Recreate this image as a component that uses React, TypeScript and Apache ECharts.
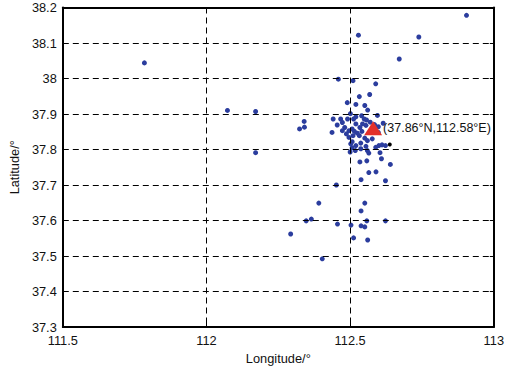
import React, { useEffect, useRef } from "react";
import * as echarts from "echarts";

const xTicks = [111.5, 112, 112.5, 113];
const yRange = [37.3, 38.2];

const lon = [
  111.784, 112.073, 112.171, 112.171, 112.905, 112.529, 112.739, 112.671, 112.459, 112.51,
  112.589, 112.532, 112.568, 112.49, 112.52, 112.551, 112.561, 112.595, 112.34, 112.324,
  112.341, 112.437, 112.441, 112.64, 112.534, 112.558, 112.565, 112.59, 112.609, 112.538,
  112.623, 112.452, 112.391, 112.551, 112.538, 112.347, 112.365, 112.456, 112.503, 112.538,
  112.551, 112.558, 112.623, 112.293, 112.512, 112.561, 112.403,
  112.501, 112.467, 112.473, 112.491, 112.512, 112.52, 112.54, 112.549, 112.473, 112.481,
  112.496, 112.507, 112.515, 112.534, 112.541, 112.598, 112.496, 112.51, 112.532, 112.551,
  112.56, 112.507, 112.52, 112.537, 112.577, 112.507, 112.5, 112.518, 112.537, 112.555,
  112.56, 112.589, 112.6, 112.611, 112.604, 112.623, 112.543, 112.557, 112.615, 112.52,
  112.455, 112.598, 112.487, 112.525, 112.555, 112.57, 112.585, 112.565, 112.502,
];
const lat = [
  38.044, 37.91, 37.907, 37.791, 38.178, 38.122, 38.117, 38.055, 37.998, 37.994,
  37.985, 37.949, 37.955, 37.932, 37.927, 37.924, 37.911, 37.896, 37.879, 37.858,
  37.863, 37.848, 37.886, 37.758, 37.765, 37.768, 37.735, 37.737, 37.774, 37.715,
  37.712, 37.7, 37.649, 37.649, 37.627, 37.599, 37.604, 37.59, 37.587, 37.585,
  37.582, 37.599, 37.599, 37.562, 37.551, 37.545, 37.492,
  37.901, 37.886, 37.876, 37.886, 37.886, 37.892, 37.895, 37.886, 37.853, 37.862,
  37.853, 37.858, 37.851, 37.862, 37.851, 37.848, 37.834, 37.839, 37.839, 37.832,
  37.825, 37.822, 37.811, 37.818, 37.83, 37.805, 37.793, 37.797, 37.802, 37.809,
  37.797, 37.806, 37.811, 37.813, 37.791, 37.811, 37.872, 37.883, 37.874, 37.872,
  37.869, 37.864, 37.844, 37.846, 37.868, 37.877, 37.87, 37.79, 37.816,
];

const stationLon = [112.58];
const stationLat = [37.86];
const stationLabel = "(37.86°N,112.58°E)";
const blackLon = [112.638];
const blackLat = [37.814];

const FONT = "Liberation Sans, Arial, sans-serif";
const FS = 12.8;

export default function App() {
  const ref = useRef<HTMLDivElement>(null);
  useEffect(() => {
    if (!ref.current) return;
    const chart = echarts.init(ref.current, null, { renderer: "svg" });
    const dash = { color: "#000", width: 1, type: [6, 4] as any };
    const frame = { show: true, onZero: false, lineStyle: { color: "#000", width: 2 } };
    const tick = { show: true, inside: true, length: 4, lineStyle: { color: "#000" } };
    chart.setOption({
      animation: false,
      backgroundColor: "#fff",
      grid: { left: 59, right: 8, top: 7.5, bottom: 40.7 },
      xAxis: [
        {
          type: "value",
          min: xTicks[0],
          max: xTicks[xTicks.length - 1],
          interval: 0.5,
          name: "Longitude/°",
          nameLocation: "middle",
          nameGap: 25,
          nameTextStyle: { fontFamily: FONT, fontSize: FS, color: "#111" },
          axisLine: frame,
          axisTick: tick,
          axisLabel: { fontFamily: FONT, fontSize: FS, color: "#111", margin: 7 },
          splitLine: { show: true, lineStyle: dash },
          z: 10,
        },
        {
          type: "value",
          position: "top",
          min: xTicks[0],
          max: xTicks[xTicks.length - 1],
          interval: 0.5,
          axisLine: frame,
          axisTick: tick,
          axisLabel: { show: false },
          splitLine: { show: false },
          z: 10,
        },
      ],
      yAxis: [
        {
          type: "value",
          min: yRange[0],
          max: yRange[1],
          interval: 0.1,
          name: "Latitude/°",
          nameLocation: "middle",
          nameGap: 38,
          nameTextStyle: { fontFamily: FONT, fontSize: FS, color: "#111" },
          axisLine: frame,
          axisTick: tick,
          axisLabel: { fontFamily: FONT, fontSize: FS, color: "#111", margin: 6 },
          splitLine: { show: true, lineStyle: dash },
          z: 10,
        },
        {
          type: "value",
          position: "right",
          min: yRange[0],
          max: yRange[1],
          interval: 0.1,
          axisLine: frame,
          axisTick: tick,
          axisLabel: { show: false },
          splitLine: { show: false },
          z: 10,
        },
      ],
      series: [
        {
          type: "scatter",
          symbol: "circle",
          symbolSize: 5,
          itemStyle: { color: "#2b3d9e", opacity: 1 },
          data: lon.map((v, i) => [v, lat[i]]),
          z: 3,
        },
        {
          type: "scatter",
          symbol: "circle",
          symbolSize: 4,
          itemStyle: { color: "#000", opacity: 1 },
          data: blackLon.map((v, i) => [v, blackLat[i]]),
          z: 4,
        },
        {
          type: "scatter",
          symbol: "triangle",
          symbolSize: [18, 14],
          itemStyle: { color: "#e2302b", opacity: 1 },
          data: stationLon.map((v, i) => [v, stationLat[i]]),
          label: {
            show: true,
            position: "right",
            distance: 1,
            formatter: () => stationLabel,
            fontFamily: FONT,
            fontSize: 12.5,
            color: "#111",
          },
          z: 5,
        },
      ],
    });
    return () => chart.dispose();
  }, []);
  return <div ref={ref} style={{ width: 507, height: 370, position: "absolute", left: 0, top: 0 }} />;
}
